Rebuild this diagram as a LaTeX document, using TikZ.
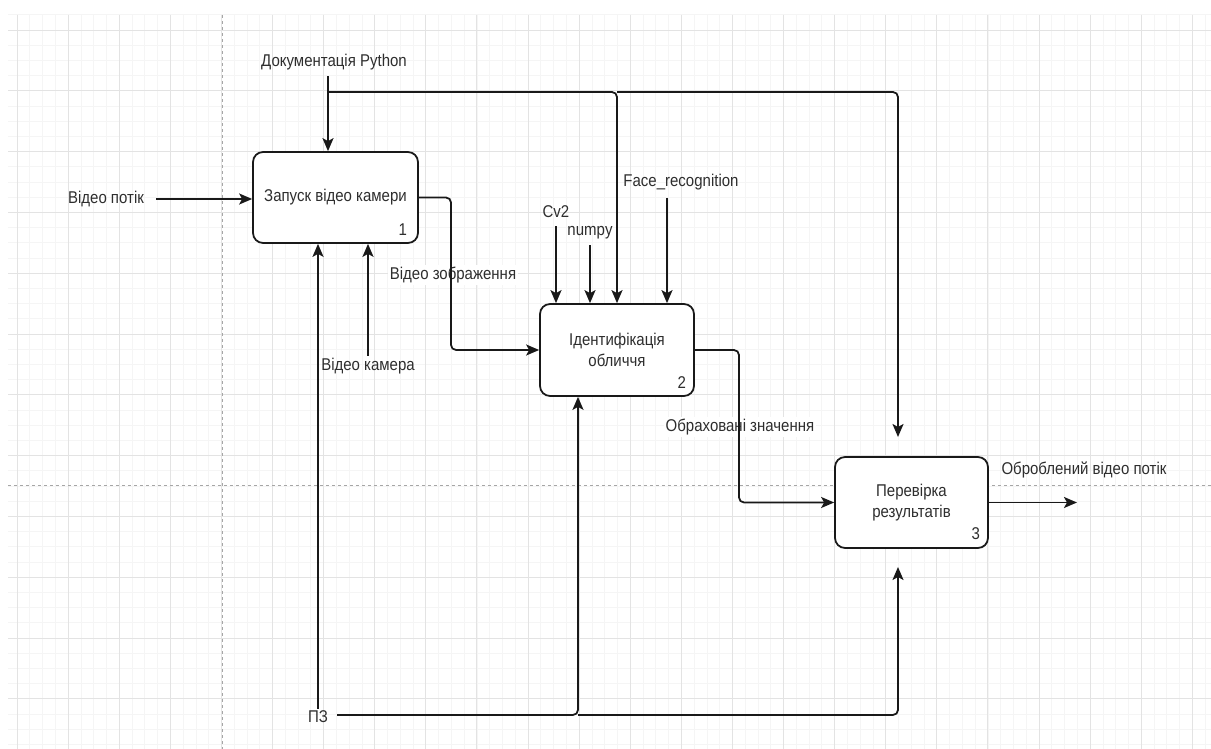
\documentclass[tikz,border=0pt]{standalone}
\usepackage{fontspec}
\setmainfont{Liberation Sans}[FakeStretch=0.88]
\usepackage{tikz}
\usetikzlibrary{arrows.meta}
\usepackage{color}
\colorlet{mygrid}{black!4}
\colorlet{mymajor}{black!11}
\colorlet{mydash}{black!35}
\colorlet{myline}{black!90}
\colorlet{mytext}{black!82}

\tikzset{
	block/.style={draw=myline, line width=1pt, rounded corners=0.2cm, fill=white, text=mytext, align=center, inner sep=0pt, font=\fontsize{9.7}{12}\selectfont},
	lbl/.style={text=mytext, inner sep=1pt, font=\fontsize{9.7}{12}\selectfont},
	flow/.style={draw=myline, line width=1pt, rounded corners=0.1cm, -{Stealth[length=0.26cm,width=0.22cm,inset=0.06cm]}},
}

\begin{document}
\begin{tikzpicture}[x=0.02cm,y=-0.02cm]
		\useasboundingbox (0,0) rectangle (1211,749);
		
		% grid
		\begin{scope}
			\clip (8,15) rectangle (1211,749);
			\foreach \i in {-1,...,94} \draw[mygrid, line width=0.4pt] ({17+12.775*\i},15) -- ({17+12.775*\i},749);
			\foreach \j in {-1,...,48} \draw[mygrid, line width=0.4pt] (8,{30+15.2*\j}) -- (1211,{30+15.2*\j});
			\foreach \i in {0,...,23} \draw[mymajor, line width=0.5pt] ({17+51.1*\i},15) -- ({17+51.1*\i},749);
			\foreach \j in {0,...,11} \draw[mymajor, line width=0.5pt] (8,{30+60.8*\j}) -- (1211,{30+60.8*\j});
		\end{scope}
		
		% page break lines
		\draw[mydash, line width=0.5pt, dash pattern=on 0.06cm off 0.06cm] (222,15) -- (222,749) (8,485) -- (1211,485);
		
		% activity boxes
		\node[block, minimum width=3.3cm, minimum height=1.82cm] (box1) at (335.5,197.5) {Запуск відео камери};
		\node[block, minimum width=3.08cm, minimum height=1.84cm] (box2) at (617,350) {Ідентифікація\\обличчя};
		\node[block, minimum width=3.06cm, minimum height=1.82cm] (box3) at (911.5,502.5) {Перевірка\\результатів};
		\node[lbl] (num1) at ([shift={(-16,-14)}]box1.south east) {1};
		\node[lbl] (num2) at ([shift={(-13,-14)}]box2.south east) {2};
		\node[lbl] (num3) at ([shift={(-13,-15)}]box3.south east) {3};
		
		% labels
		\node[lbl] (vin) at (106,199) {Відео потік};
		\node[lbl] (doc) at (334,62) {Документація Python};
		\node[lbl, fill=white] (vimg) at (453,275) {Відео зображення};
		\node[lbl] (cv) at (556,212) {Cv2};
		\node[lbl] (np) at (590,233) {numpy};
		\node[lbl] (fr) at (681,182) {Face\_recognition};
		\node[lbl] (vcam) at (368,366) {Відео камера};
		\node[lbl, fill=white] (calc) at (740,427) {Обраховані значення};
		\node[lbl] (vout) at (1084,470) {Оброблений відео потік};
		\node[lbl] (pz) at (318,717) {ПЗ};
		
		% bend points
		\coordinate (dtop) at (328,92);
		\coordinate (dbr) at (617,92);
		\coordinate (dend) at (898,437);
		\coordinate (frx) at (667,198);
		\coordinate (b12) at (451,199);
		\coordinate (b23) at (739,350);
		\coordinate (outend) at (1077,502);
		\coordinate (pb2) at (578,715);
		\coordinate (pb3) at (898,567);
		
		% inputs
		\draw[flow, shorten <=0.2cm] (vin.east) -- (vin.east -| box1.west);
		\draw[flow] (box1.east) -- (box1.east -| b12) -- (b12 |- box2.west) -- (box2.west);
		\draw[flow] (box2.east) -- (box2.east -| b23) -- (b23 |- box3.west) -- (box3.west);
		\draw[flow] (box3.east) -- (box3.east -| outend);
		
		% controls
		\draw[flow, shorten <=0.08cm] (doc.south -| dtop) -- (dtop |- box1.north);
		\draw[flow] (dtop) -- (dbr) -- (dbr |- box2.north);
		\draw[flow] (dbr) -- (dbr -| dend) -- (dend);
		\draw[flow, shorten <=0.12cm] (cv.south) -- (cv.south |- box2.north);
		\draw[flow, shorten <=0.08cm] (np.south) -- (np.south |- box2.north);
		\draw[flow] (frx) -- (frx |- box2.north);
		
		% mechanisms
		\draw[flow] (pz.north) -- (pz.north |- box1.south);
		\draw[flow] (vcam.north) -- (vcam.north |- box1.south);
		\draw[flow, shorten <=0.14cm] (pz.east |- pb2) -- (pb2) -- (pb2 |- box2.south);
		\draw[flow] (pb2) -- (pb2 -| pb3) -- (pb3);
\end{tikzpicture}
\end{document}
